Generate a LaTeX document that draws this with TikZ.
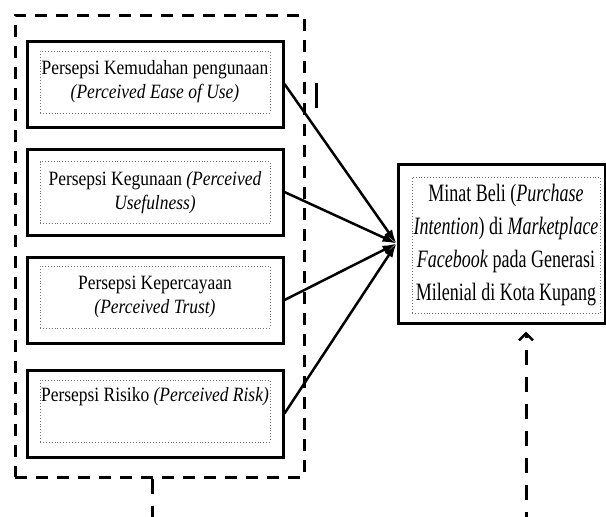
\documentclass[tikz,border=0pt]{standalone}
\usepackage{fontspec}
\setmainfont{Liberation Serif}[FakeStretch=0.86]
\newfontfamily\minatfont{Liberation Serif}[FakeStretch=0.72]
\usetikzlibrary{arrows.meta}

\begin{document}
\begin{tikzpicture}[x=1pt,y=-1pt,
    luar/.style={draw,line width=3pt,inner sep=0pt,minimum width=256pt,minimum height=86pt},
    dalam/.style={draw=black!55,dotted,line width=0.9pt,inner xsep=1pt,inner ysep=0pt,minimum width=230pt,minimum height=62pt,align=center,font=\fontsize{20.3}{24}\selectfont},
    panah/.style={-{Latex[length=14pt,width=9pt]},line width=2.5pt,draw},
    umpan/.style={-{Straight Barb[length=7pt,width=14pt,line width=2.5pt]},line width=3pt,dash pattern=on 15pt off 12pt,draw}]

    \useasboundingbox (0,0) rectangle (606,517);
    \clip (0,0) rectangle (606,517);

    \node[draw,line width=3pt,dash pattern=on 12pt off 9pt,inner sep=0pt,minimum width=289pt,minimum height=462pt] (kelompok) at (159.5,246) {};

    \node[luar] (kemudahan) at (155,84) {};
    \node[dalam] (tkemudahan) at (155,82) {Persepsi Kemudahan pengunaan\\\textit{(Perceived Ease of Use)}};
    \node[luar] (kegunaan) at (155,192) {};
    \node[dalam] (tkegunaan) at (155,192.5) {Persepsi Kegunaan \textit{(Perceived}\\\textit{Usefulness)}};
    \node[luar] (kepercayaan) at (155,300) {};
    \node[dalam] (tkepercayaan) at (155,297) {Persepsi Kepercayaan\\\textit{(Perceived Trust)}};
    \node[luar,minimum height=87pt] (risiko) at (155,413.5) {};
    \node[dalam,align=left] (trisiko) at (155,411) {Persepsi Risiko \textit{(Perceived Risk)}\\[10pt]\mbox{}};

    \node[luar,minimum width=207pt,minimum height=159pt] (minat) at (501.5,243.5) {};
    \node[dalam,minimum width=188pt,minimum height=136pt,font=\minatfont\fontsize{25}{33}\selectfont] (tminat) at (506,245) {Minat Beli (\textit{Purchase}\\\textit{Intention}) di \textit{Marketplace}\\\textit{Facebook} pada Generasi\\Milenial di Kota Kupang};

    \draw[line width=3pt] (316,83) -- (316,108);

    \path[panah] (kemudahan.east) -- (minat.west);
    \path[panah] (kegunaan.east) -- (minat.west);
    \path[panah] (kepercayaan.east) -- (minat.west);
    \path[panah] (risiko.east) -- (minat.west);

    \coordinate (bawahkiri) at (152,518);
    \coordinate (bawahkanan) at (526,518);
    \path[umpan] ([xshift=-7.5pt]kelompok.south) -- (bawahkiri) -- (bawahkanan) -- ([xshift=24.5pt,yshift=-7pt]minat.south);
\end{tikzpicture}
\end{document}
